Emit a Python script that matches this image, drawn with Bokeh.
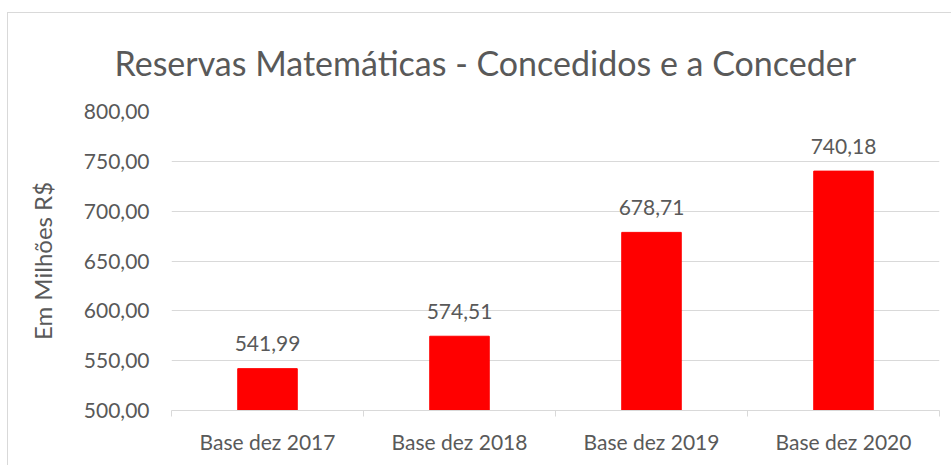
from bokeh.plotting import figure
from bokeh.models import Range1d, FixedTicker, ColumnDataSource
from bokeh.embed import file_html
from bokeh.resources import INLINE
from bokeh.core.properties import value

categories = ["Base dez 2017", "Base dez 2018", "Base dez 2019", "Base dez 2020"]
values = [541.99, 574.51, 678.71, 740.18]
value_labels = ["541,99", "574,51", "678,71", "740,18"]
y_ticks = [500, 550, 600, 650, 700, 750, 800]
y_tick_labels = ["500,00", "550,00", "600,00", "650,00", "700,00", "750,00", "800,00"]
title_text = "Reservas Matemáticas - Concedidos e a Conceder"
y_title = "Em Milhões R$"

FONT = "Lato"
GRAY = "#595959"
LINE = "#d9d9d9"

xs = [i + 0.5 for i in range(len(categories))]
src = ColumnDataSource(dict(x=xs, top=values, lab=value_labels))

p = figure(width=944, height=453, output_backend="svg", toolbar_location=None,
           x_range=Range1d(0, len(categories)), y_range=Range1d(500, 800),
           min_border_left=163, min_border_right=13, min_border_top=98, min_border_bottom=56)
p.margin = (12, 0, 0, 7)
p.styles = {"border-left": "1px solid #d9d9d9", "border-top": "1px solid #d9d9d9"}
p.outline_line_color = None
p.background_fill_color = "white"
p.border_fill_color = "white"

p.title.text = title_text
p.title.text_font = FONT
p.title.text_font_size = "34px"
p.title.text_font_style = "normal"
p.title.text_color = GRAY
p.title.align = "left"
p.title.vertical_align = "top"
p.title.offset = -57
p.title.standoff = 54

p.vbar(x="x", top="top", bottom=500, width=0.31, source=src, color="#ff0000")
p.text(x="x", y="top", text="lab", source=src, text_align="center", text_baseline="alphabetic",
       y_offset=-25, text_font=value(FONT), text_font_size="21px", text_color=GRAY)

xa = p.xaxis[0]
xa.ticker = FixedTicker(ticks=xs, minor_ticks=list(range(len(categories) + 1)))
xa.major_label_overrides = {x: c for x, c in zip(xs, categories)}
xa.axis_line_color = LINE
xa.major_tick_line_color = None
xa.major_tick_out = 0
xa.major_tick_in = 0
xa.minor_tick_line_color = LINE
xa.minor_tick_out = 6
xa.minor_tick_in = 0
xa.major_label_standoff = 12
xa.major_label_text_font = FONT
xa.major_label_text_font_size = "21px"
xa.major_label_text_color = GRAY

ya = p.yaxis[0]
ya.ticker = FixedTicker(ticks=y_ticks)
ya.major_label_overrides = {t: l for t, l in zip(y_ticks, y_tick_labels)}
ya.axis_line_color = None
ya.major_tick_line_color = None
ya.minor_tick_line_color = None
ya.major_tick_out = 0
ya.major_tick_in = 0
ya.major_label_standoff = 22
ya.major_label_text_font = FONT
ya.major_label_text_font_size = "21px"
ya.major_label_text_color = GRAY
ya.axis_label = y_title
ya.axis_label_text_font = FONT
ya.axis_label_text_font_size = "24px"
ya.axis_label_text_font_style = "normal"
ya.axis_label_text_color = GRAY
ya.axis_label_standoff = 24

p.xgrid.grid_line_color = None
p.ygrid.grid_line_color = LINE
p.ygrid.grid_line_width = 1

open("out.html", "w").write(file_html(p, INLINE))
